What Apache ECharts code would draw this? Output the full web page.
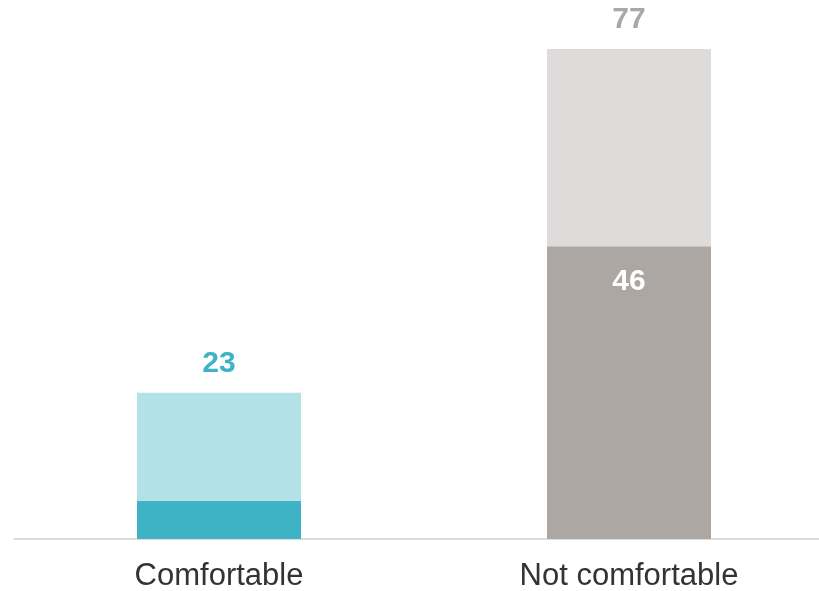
<html>
<head>
<meta charset="UTF-8"/>
<title>Comfortable</title>
<script src="https://cdn.jsdelivr.net/npm/echarts@6/dist/echarts.min.js"></script>
<style>
body { margin: 0; background: #fff; }
#canvasDiv { width: 819px; height: 591px; }
</style>
</head>
<body>
<div id="canvasDiv"></div>
<script>
var categories = ["Comfortable", "Not comfortable"];
var strongVals = [6, 46];     // darker bottom part
var softVals = [17, 31];      // lighter top part
var totals = [23, 77];
var strongColors = ["#3eb3c6", "#aca7a3"];
var softColors = ["#b3e1e8", "#dddcdb"];
var totalColors = ["#3eb3c6", "#aca7a3"];

var chart = echarts.init(document.getElementById("canvasDiv"));
var font = "Liberation Sans, Arial, sans-serif";

chart.setOption({
  animation: false,
  grid: { left: 14, width: 820, top: 49, bottom: 52, outerBoundsMode: "none", containLabel: false },
  xAxis: {
    type: "category",
    data: categories,
    axisLine: { lineStyle: { color: "#dddddd", width: 2 } },
    axisTick: { show: false },
    axisLabel: { fontSize: 31, color: "#333333", margin: 22, fontFamily: font }
  },
  yAxis: { type: "value", min: 0, max: 77, show: false, splitLine: { show: false } },
  series: [{
    type: "bar",
    stack: "s",
    barWidth: 164,
    data: strongVals.map(function (v, i) {
      return {
        value: v,
        itemStyle: { color: strongColors[i] },
        label: { show: i === 1 }
      };
    }),
    label: {
      position: "insideTop", distance: 20, color: "#ffffff",
      fontSize: 30, fontWeight: "bold", fontFamily: font
    }
  }, {
    type: "bar",
    stack: "s",
    barWidth: 164,
    data: softVals.map(function (v, i) {
      return {
        value: v,
        itemStyle: { color: softColors[i] },
        label: { color: totalColors[i] }
      };
    }),
    label: {
      show: true, position: "top", distance: 14,
      fontSize: 30, fontWeight: "bold", fontFamily: font,
      formatter: function (p) { return totals[p.dataIndex]; }
    }
  }]
});
</script>
</body>
</html>
